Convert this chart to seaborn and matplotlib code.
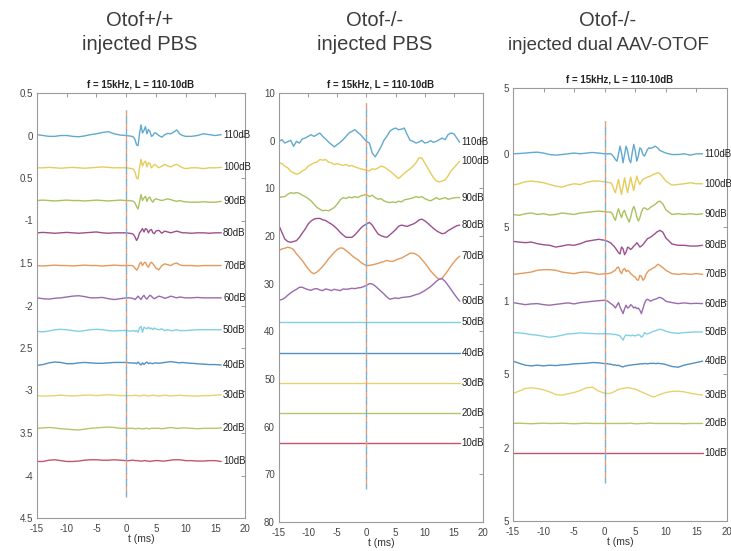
import numpy as np
import pandas as pd
import matplotlib
matplotlib.use("Agg")
import matplotlib.pyplot as plt
import seaborn as sns
from matplotlib import font_manager

sns.set_style("white")
plt.rcParams["font.family"] = ["Liberation Sans", "DejaVu Sans"]

# ---------------- data ----------------
levels = ["110dB", "100dB", "90dB", "80dB", "70dB", "60dB",
          "50dB", "40dB", "30dB", "20dB", "10dB"]
colors = ["#62a9cf", "#e6cc5c", "#a9c25f", "#9c5090", "#e49a5c", "#9a6aae",
          "#84cfe6", "#5490c0", "#e8d26e", "#b9c56c", "#c2566e"]

panel_titles = ["Otof+/+\ninjected PBS", "Otof-/-\ninjected PBS",
                "Otof-/-\ninjected dual AAV-OTOF"]
axes_title = "f = 15kHz, L = 110-10dB"
xticks = [-15, -10, -5, 0, 5, 10, 15, 20]

# ---- panel 1 (Otof+/+ PBS) ----
t1 = [-15, -14, -13, -12, -11, -10, -9, -8, -7, -6, -5, -4, -3, -2, -1, 0, 0.5,
      1, 1.25, 1.5, 1.75, 2, 2.25, 2.5, 2.75, 3, 3.25, 3.5, 3.75, 4, 4.25, 4.5, 4.75, 5,
      5.5, 6, 6.5, 7, 7.5, 8, 8.5, 9, 9.5, 10, 11, 12, 13, 14, 15, 16]
p1_base = [0, -0.38, -0.765, -1.145, -1.53, -1.91, -2.295, -2.675, -3.06, -3.445, -3.825]
p1_110 = [.01, 0, -.01, -.01, 0, 0, -.01, -.015, -.005, .01, .02, .035, .045, .02, .005, 0, -.005,
          -.01, -.02, -.05, -.11, -.12, .02, .125, .03, .06, .105, .02, .07, .05, -.01, 0, .03, .03,
          0, -.02, .01, .025, .02, .04, .065, .02, 0, -.01, -.01, 0, .02, .01, 0, .01]
p1_100 = [0, 0, .005, 0, -.005, 0, .005, 0, -.005, 0, .005, .01, .005, 0, 0, 0, -.005,
          -.01, -.02, -.05, -.12, -.13, 0, .1, .02, .06, .08, .01, .06, .05, 0, .02, .04, .03,
          0, .02, .04, .02, .01, .03, .04, .02, 0, -.01, 0, 0, -.01, 0, 0, .005]
p1_90 = [0, .005, 0, -.005, 0, .005, 0, 0, -.005, 0, .005, 0, -.005, 0, .005, 0, 0,
         -.005, -.01, -.03, -.07, -.1, -.02, .07, 0, .03, .05, -.01, .03, .04, 0, -.02, .01, .02,
         .01, 0, .01, .02, .01, 0, -.01, 0, -.01, -.015, -.02, -.02, -.015, -.02, -.02, -.01]
p1_80 = [0, .005, 0, -.005, 0, .005, 0, -.005, 0, .005, .01, 0, -.005, 0, 0, 0, -.005,
         -.01, -.02, -.05, -.09, -.06, 0, .02, .05, .01, .05, .04, 0, .03, .04, 0, -.01, .02,
         .03, -.005, .02, .01, 0, .01, .02, .01, 0, 0, -.005, 0, 0, -.005, 0, 0]
p1_70 = [0, -.005, 0, .005, 0, 0, -.005, 0, .005, 0, 0, -.005, 0, .005, 0, 0, 0,
         0, -.01, -.03, -.055, -.03, .02, .04, 0, .03, .04, 0, -.02, .02, .04, .02, 0, -.03,
         -.05, 0, .02, .01, 0, .02, .03, .01, 0, 0, 0, -.005, 0, 0, 0, 0]
p1_60 = [0, -.01, -.015, -.005, 0, .01, .02, .025, .015, 0, 0, .005, -.01, -.02, -.01, 0, 0,
         -.005, -.01, -.02, 0, .02, 0, -.02, .01, .03, 0, -.015, .01, .03, .02, 0, -.01, 0,
         .02, .01, -.005, .005, .02, .01, 0, .01, .005, 0, 0, .005, 0, 0, 0, 0]
p1_50 = [-.01, -.015, -.005, .01, .015, .01, 0, -.01, 0, .01, .015, .01, 0, -.005, 0, 0, -.005,
         -.005, 0, -.01, 0, -.02, .03, .05, -.02, .04, .03, .02, .04, .02, .03, .01, .03, .02,
         .01, .02, 0, .01, 0, 0, .01, 0, 0, 0, .005, .01, .01, .01, .01, .01]
p1_40 = [-.03, -.02, 0, .01, .005, -.01, -.01, 0, .005, 0, -.005, -.005, 0, .005, .005, .005, 0,
         0, -.005, 0, -.01, .01, -.01, -.025, 0, -.02, 0, .01, -.01, 0, -.005, -.01, 0, 0,
         -.005, 0, .005, .01, .015, .01, .005, 0, .005, 0, -.005, -.01, -.015, -.02, -.02, -.025]
p1_30 = [0, -.005, -.005, 0, .005, 0, -.005, 0, .005, .005, 0, .005, .01, .005, 0, 0, 0,
         0, 0, .005, 0, 0, -.005, 0, 0, .005, 0, 0, -.005, 0, 0, .005, 0, 0,
         -.005, 0, .005, 0, -.005, 0, 0, .005, 0, 0, -.005, -.005, 0, 0, .005, .01]
p1_20 = [0, .005, .01, .005, -.005, -.01, -.015, -.02, -.01, 0, .005, .01, .015, .01, 0, 0, 0,
         0, 0, -.005, -.005, 0, 0, -.005, -.005, -.005, 0, 0, -.005, -.005, 0, 0, 0, 0,
         0, -.005, 0, .005, .01, .005, 0, 0, .005, .005, 0, -.005, 0, 0, 0, .005]
p1_10 = [-.01, -.01, .005, .01, 0, -.01, -.01, -.005, .005, .01, .01, .005, .005, .01, .005, 0, 0,
         .005, .005, 0, 0, 0, -.005, -.005, -.005, 0, 0, -.005, -.005, -.01, -.005, -.005, 0, 0,
         0, -.005, -.005, 0, .005, .01, .01, .01, .005, 0, 0, -.005, -.005, 0, 0, -.01]
p1_yticks = [0.5, 0, -0.5, -1, -1.5, -2, -2.5, -3, -3.5, -4, -4.5]
p1_ylabels = ["0.5", "0", "0.5", "-1", "1.5", "-2", "2.5", "-3", "3.5", "-4", "4.5"]

# ---- panel 2 (Otof-/- PBS) ----
t2 = [-15, -14.5, -14, -13.5, -13, -12.5, -12, -11.5, -11, -10.5, -10, -9.5, -9, -8.5, -8,
      -7.5, -7, -6.5, -6, -5.5, -5, -4.5, -4, -3.5, -3, -2.5, -2, -1.5, -1, -0.5, 0,
      0.5, 1, 1.5, 2, 2.5, 3, 3.5, 4, 4.5, 5, 5.5, 6, 6.5, 7, 7.5, 8, 8.5, 9, 9.5, 10,
      10.5, 11, 11.5, 12, 12.5, 13, 13.5, 14, 14.5, 15, 15.5, 16]
t_flat = [-15, 16]
p2_base = [0, -6.35, -12.7, -19.05, -25.4, -31.75, -38.1, -44.45, -50.8, -57.15, -63.5]
p2_110 = [-0.14, 0.2, -0.5, -0.2, 0.07, -1.2, -0.14, -0.5, 0.35, 0.55,
          0.9, 1.25, 0.9, 1.25, 1.6, 0.9, 0.35, -0.3, -0.8, -1.3,
          -0.8, -0.35, 0.2, 0.9, 1.6, 1.95, 2.3, 1.75, 1.25, 0.55,
          -0.14, -0.5, -2.6, -3.4, -2.4, -1.3, 0.07, 0.9, 1.95, 2.4,
          2.65, 2.3, 2.4, 2.65, 1.25, 0.07, -0.14, -0.5, -0.3, 0.07,
          -0.5, -0.35, 0, -0.35, -0.14, 0.2, 0.55, 0.2, 1.25, 1.6,
          1.45, 0.55, -0.35]
p2_100 = [1.7, 1.55, 1.0, 0.65, -0.05, -0.4, -0.7, -0.5, 0, 0.3,
          1.0, 1.35, 1.7, 1.85, 2.4, 2.25, 2.4, 1.85, 1.7, 1.35,
          1.55, 1.35, 1.15, 1.35, 1.0, 1.15, 0.85, 0.65, 0.45, 0.3,
          0.1, 0, 0.45, 0.3, 0.65, 1.0, 0.85, 0.45, 0, -0.5,
          -1.05, -1.6, -1.05, -0.5, 0, 0.45, 1.0, 1.7, 2.75, 2.75,
          1.7, 0.65, -0.4, -1.4, -2.1, -2.3, -2.1, -1.9, -1.05, 0,
          0.65, 1.35, 2.05]
p2_90 = [0.76, 0.9, 0.97, 1.45, 1.8, 1.65, 1.8, 1.65, 1.25, 0.97,
         0.55, 0.07, -0.6, -1.3, -1.67, -2.0, -1.9, -2.0, -1.67, -1.3,
         -0.6, 0.28, 0.76, 0.55, 0.9, 0.7, 0.97, 0.76, 1.1, 1.25,
         1.4, 0.97, 1.25, 0.76, 0.4, 0.55, 0.07, -0.15, -0.29, -0.15,
         -0.29, 0, -0.15, 0.28, 0.4, 0.55, 0.7, 0.97, 0.76, 0.97,
         0.55, 0.28, 0.07, 0.4, 0.76, 0.4, 0.55, 0.76, 0.4, 0.55,
         0.7, 0.76, 0.76]
p2_80 = [1.2, -0.19, -1.6, -2.1, -2.27, -2.1, -1.92, -1.23, -0.33, 0.51,
         1.55, 2.2, 2.59, 2.73, 2.73, 2.45, 2.3, 1.9, 1.55, 1.06,
         0.51, -0.19, -0.74, -1.23, -1.23, -1.23, -0.74, -0.05, 0.65, 1.2,
         1.55, 1.9, 1.34, 0.37, -0.53, -0.88, -1.1, -1.23, -0.74, -0.19,
         0.37, 1.06, 1.34, 1.2, 1.06, 1.34, 1.55, 1.9, 2.4, 2.59,
         2.25, 1.75, 1.2, 0.65, 0.16, -0.19, -0.47, -0.33, 0.16, 0.51,
         0.86, 1.2, 1.34]
p2_70 = [2.34, 2.69, 2.83, 3.04, 2.9, 2.55, 1.65, 0.96, 0.26, -0.64,
         -1.48, -2.17, -2.52, -2.17, -1.62, -0.99, -0.23, 0.61, 1.3, 2.0,
         2.55, 2.9, 2.83, 2.34, 1.86, 1.3, 0.82, 0.47, -0.09, -0.5,
         -0.78, -0.78, -0.64, -0.5, -0.36, -0.09, 0.05, 0.26, 0.12, 0.05,
         0.33, 0.61, 0.75, 1.1, 1.44, 1.79, 1.79, 1.58, 1.16, 0.47,
         -0.23, -1.06, -1.9, -2.59, -3.21, -3.7, -3.42, -2.66, -1.82, -0.92,
         -0.09, 0.61, 1.16]
p2_60 = [-1.72, -1.58, -1.23, -0.68, -0.19, 0.22, 0.57, 0.99, 0.99, 0.71,
         0.5, 0.36, 0.64, 0.71, 0.43, 0.29, 0.64, 0.5, 0.29, 0.57,
         0.43, 0.29, 0.64, 0.57, 0.64, 0.78, 0.71, 0.85, 0.92, 1.12,
         1.4, 1.75, 1.68, 1.26, 0.71, 0.15, -0.4, -1.03, -1.51, -1.37,
         -1.23, -1.37, -1.16, -1.1, -1.03, -0.96, -0.75, -0.54, -0.4, -0.06,
         0.29, 0.71, 1.12, 1.68, 2.24, 2.72, 2.79, 2.24, 1.4, 0.57,
         -0.33, -1.16, -1.93]
flat = [0.0, 0.0]
p2_yticks = [10, 0, -10, -20, -30, -40, -50, -60, -70, -80]
p2_ylabels = ["10", "0", "10", "20", "30", "40", "50", "60", "70", "80"]

# ---- panel 3 (Otof-/- dual AAV-OTOF) ----
t3 = [-15, -14, -13, -12, -11, -10, -9, -8, -7, -6, -5, -4, -3, -2, -1, 0, 0.5,
      1, 1.25, 1.5, 1.75, 2, 2.25, 2.5, 2.75, 3, 3.25, 3.5, 3.75, 4, 4.25, 4.5, 4.75, 5,
      5.25, 5.5, 5.75, 6, 6.25, 6.5, 6.75, 7, 7.25, 7.5, 7.75, 8, 8.25, 8.5, 8.75, 9,
      9.5, 10, 11, 12, 13, 14, 15, 16]
p3_base = [0, -0.204, -0.408, -0.612, -0.816, -1.02, -1.224, -1.428, -1.632, -1.836, -2.04]
p3_110 = [0, .002, .005, .009, .011, .005, -.005, -.009, -.005, 0, .005, 0, .005, .009, .005, 0, 0,
          0, -.009, -.023, -.039, -.05, -.005, .052, .007, -.061, -.005, .052, .018, -.039, -.061,
          .007, .064, .018, -.05, -.016, .041, .030, -.005, -.016, .007, .030, .041, .036, .041,
          .045, .052, .045, .036, .023,
          .014, .005, -.005, -.005, 0, -.009, 0, 0]
p3_100 = [-.009, 0, .014, .018, .014, .007, -.005, -.016, -.023, -.009, 0, -.005, .009, .018, .018, .014, .009,
          .007, -.009, -.039, -.061, -.016, .030, -.027, -.073, -.016, .041, -.016, -.061, -.005, .045,
          -.005, -.045, .007, .052, .018, -.005, .014, .030, .036, .041, .045, .050, .052, .059,
          .064, .068, .073, .075, .070,
          .045, .018, -.009, -.005, 0, .007, 0, 0]
p3_90 = [-.005, -.011, 0, .005, -.005, 0, -.009, -.005, .005, 0, -.005, .005, .009, .014, .018, .014, .011,
         .011, 0, -.027, -.045, 0, .034, 0, -.027, .011, .023, -.011, -.034, -.057, -.023,
         .023, .050, .023, -.023, -.050, -.027, .011, .034, .041, .034, .027, .034, .045, .050,
         .057, .064, .073, .082, .086,
         .068, .027, -.005, 0, -.005, 0, -.005, 0]
p3_80 = [.016, .011, .007, .011, 0, -.007, -.011, -.023, -.016, -.007, -.011, 0, .016, .023, .030, .023, .016,
         .005, -.007, -.016, -.030, -.045, -.061, -.070, -.023, -.034, -.075, -.057, -.023, -.030, -.039,
         -.030, -.016, -.007, .007, -.007, -.023, -.016, -.007, .007, .020, .034, .039, .045, .052,
         .061, .068, .079, .084, .091,
         .079, .039, -.002, -.011, -.011, -.016, -.016, -.011]
p3_70 = [-.005, 0, .005, .011, .023, .027, .027, .023, .011, .005, 0, .009, .011, .005, -.005, 0, 0,
         .005, .011, .018, .023, .041, .045, .018, 0, .027, .036, .014, .023, .014, 0,
         -.009, -.018, -.023, -.041, -.045, -.011, -.018, -.045, -.034, -.005, .011, .023, .027, .034,
         .041, .045, .057, .064, .057,
         .041, .023, 0, -.005, 0, -.005, 0, -.005]
p3_60 = [.007, 0, -.007, -.002, 0, -.007, -.011, -.005, 0, .005, -.002, .007, .011, .016, .020, .023, .016,
         0, -.007, -.016, -.030, -.011, .007, -.023, -.045, -.068, -.034, -.011, -.030, -.023, -.007,
         -.016, -.030, -.023, -.034, -.030, -.045, -.068, -.034, 0, .023, .030, .023, .016, .023,
         .027, .030, .034, .039, .043,
         .034, .016, .007, 0, .005, 0, .002, 0]
p3_50 = [.007, .005, 0, -.007, -.011, -.018, -.025, -.020, -.011, -.002, 0, .005, .002, 0, -.002, 0, -.002,
         -.002, -.005, -.007, -.005, -.009, -.011, -.016, -.030, -.045, -.020, -.009, -.014, -.011, -.016,
         -.011, -.014, -.016, -.011, -.007, -.011, -.025, -.016, .007, 0, -.002, .002, .007, .011,
         .016, .018, .023, .025, .030,
         .025, .016, .005, .002, .007, .009, .011, .011]
p3_40 = [.016, .002, -.011, -.016, -.011, -.016, -.011, -.014, -.009, -.007, -.002, 0, .002, .007, .005, 0, -.002,
         -.005, -.007, -.011, -.009, -.014, -.011, -.016, -.020, -.023, -.018, -.016, -.014, -.011, -.011,
         -.009, -.007, -.007, -.005, -.005, -.002, -.002, -.002, 0, 0, -.002, 0, .002, 0,
         .002, 0, 0, .002, 0,
         -.002, -.007, -.020, -.025, -.011, -.002, .007, .016]
p3_30 = [0, .016, .034, .039, .034, .025, .011, -.007, -.011, -.002, .007, .020, .039, .043, .016, .002, 0,
         .002, .007, .011, .016, .023, .027, .030, .034, .034, .036, .039, .039, .039, .036,
         .034, .032, .030, .025, .020, .016, .011, .007, .002, -.002, -.007, -.011, -.016, -.020,
         -.023, -.020, -.016, -.011, -.007,
         0, .007, .014, .016, .011, .002, -.005, -.011]
p3_20 = [0, .002, 0, -.002, 0, .002, 0, 0, .002, 0, -.002, 0, .002, 0, 0, 0, 0,
         0, 0, 0, 0, 0, 0, 0, 0, 0, 0, 0, 0, .002, .002,
         0, 0, -.002, -.002, -.002, 0, 0, 0, 0, 0, .002, .002, .002, .002,
         0, 0, 0, 0, 0,
         0, 0, 0, 0, -.002, 0, 0, 0]
p3_yticks = [0.448, 0, -0.5, -1, -1.5, -2, -2.5]
p3_ylabels = ["5", "0", "5", "1", "5", "2", "5"]

# ---------------- build long tables ----------------
def build(base, traces):
    parts = []
    for lev, b, (tt, dv) in zip(levels, base, traces):
        parts.append(pd.DataFrame({"t": tt, "v": b + np.asarray(dv, float), "level": lev}))
    return pd.concat(parts, ignore_index=True)

df1 = build(p1_base, [(t1, p1_110), (t1, p1_100), (t1, p1_90), (t1, p1_80), (t1, p1_70),
                      (t1, p1_60), (t1, p1_50), (t1, p1_40), (t1, p1_30), (t1, p1_20), (t1, p1_10)])
df2 = build(p2_base, [(t2, p2_110), (t2, p2_100), (t2, p2_90), (t2, p2_80), (t2, p2_70),
                      (t2, p2_60), (t_flat, flat), (t_flat, flat), (t_flat, flat),
                      (t_flat, flat), (t_flat, flat)])
df3 = build(p3_base, [(t3, p3_110), (t3, p3_100), (t3, p3_90), (t3, p3_80), (t3, p3_70),
                      (t3, p3_60), (t3, p3_50), (t3, p3_40), (t3, p3_30), (t3, p3_20),
                      (t_flat, flat)])

# ---------------- figure ----------------
fig = plt.figure(figsize=(7.31, 5.51), dpi=100)
W, H = 731, 551
def rect(l, r, t, b):
    return [l / W, (H - b) / H, (r - l) / W, (b - t) / H]

panels = [
    dict(df=df1, rect=rect(37, 245, 93, 518), ylim=(-4.5, 0.5), yt=p1_yticks, yl=p1_ylabels,
         dash=(0.3, -4.25), cx=140, fs2=14.5),
    dict(df=df2, rect=rect(279, 483, 93, 522), ylim=(-80, 10), yt=p2_yticks, yl=p2_ylabels,
         dash=(7.9, -73), cx=375, fs2=14.5),
    dict(df=df3, rect=rect(513, 727, 88, 521), ylim=(-2.5, 0.448), yt=p3_yticks, yl=p3_ylabels,
         dash=(0.22, -2.24), cx=608, fs2=13.4),
]

names = {f.name for f in font_manager.fontManager.ttflist}
big_family = ["Liberation Sans Narrow", "Liberation Sans"] if "Liberation Sans Narrow" in names \
    else ["Liberation Sans", "DejaVu Sans"]

for p, ttl in zip(panels, panel_titles):
    ax = fig.add_axes(p["rect"])
    sns.lineplot(data=p["df"], x="t", y="v", hue="level", hue_order=levels,
                 palette=colors, estimator=None, sort=False, legend=False,
                 linewidth=1.0, ax=ax)
    top, bot = p["dash"]
    ax.plot([0, 0], [top, bot], color="#e8a07a", lw=1.0, ls=(0, (5, 4)))
    ax.plot([0, 0], [top, bot], color="#78b2d6", lw=1.0, ls=(4.5, (5, 4)))
    # level labels at trace ends
    for lev in levels:
        sub = p["df"][p["df"]["level"] == lev]
        yend = sub["v"].iloc[-1]
        ax.text(16.3, yend, lev, fontsize=7, ha="left", va="center", color="#222222",
                clip_on=False)
    ax.set_xlim(-15, 20)
    ax.set_ylim(*p["ylim"])
    ax.set_xticks(xticks)
    ax.set_xticklabels([str(v) for v in xticks])
    ax.set_yticks(p["yt"])
    ax.set_yticklabels(p["yl"])
    ax.set_xlabel("t (ms)", fontsize=7.5, color="#333333", labelpad=0)
    ax.set_ylabel("")
    ax.set_title(axes_title, fontsize=7, fontweight="bold", color="#222222", pad=4)
    ax.tick_params(direction="in", length=3, width=0.6, color="#8a8a8a",
                   top=True, right=True, labelsize=7, labelcolor="#444444", pad=2)
    ax.tick_params(axis="x", pad=4)
    ax.tick_params(axis="y", pad=3)
    for s in ax.spines.values():
        s.set_color("#9a9a9a")
        s.set_linewidth(0.8)
    line1, line2 = ttl.split("\n")
    fig.text(p["cx"] / W, 1 - 20 / H, line1, ha="center", va="center", fontsize=14.5,
             color="#3c3c3c", family=big_family)
    fig.text(p["cx"] / W, 1 - 45 / H, line2, ha="center", va="center", fontsize=p["fs2"],
             color="#3c3c3c", family=big_family)

fig.savefig("out.png", dpi=100, facecolor="white")
